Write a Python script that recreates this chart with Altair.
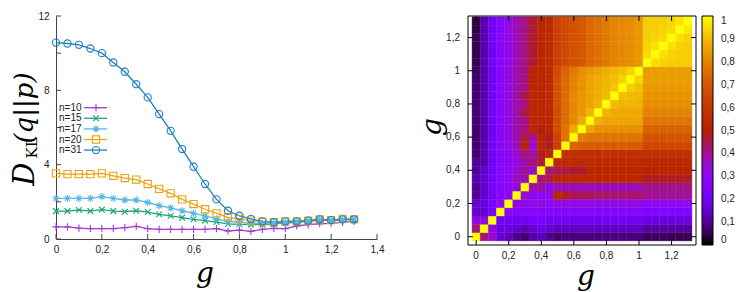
import math
import altair as alt
import pandas as pd

# ---------------- data ----------------
G = [0.0, 0.05, 0.1, 0.15, 0.2, 0.25, 0.3, 0.35, 0.4, 0.45, 0.5, 0.55, 0.6, 0.65,
     0.7, 0.75, 0.8, 0.85, 0.9, 0.95, 1.0, 1.05, 1.1, 1.15, 1.2, 1.25, 1.3]

SERIES = ["n=10", "n=15", "n=17", "n=20", "n=31"]

D_N10 = [0.65, 0.65, 0.59, 0.56, 0.56, 0.56, 0.61, 0.68, 0.56, 0.52, 0.52, 0.52, 0.52, 0.52,
         0.56, 0.43, 0.48, 0.41, 0.52, 0.57, 0.56, 0.70, 0.77, 0.82, 0.84, 0.90, 0.95]
D_N15 = [1.50, 1.50, 1.56, 1.50, 1.58, 1.50, 1.47, 1.52, 1.45, 1.33, 1.25, 1.15, 1.06, 0.99,
         0.91, 0.81, 0.79, 0.77, 0.77, 0.81, 0.86, 0.90, 0.95, 1.02, 0.99, 1.02, 1.06]
D_N17 = [2.19, 2.19, 2.19, 2.19, 2.28, 2.19, 2.10, 2.10, 1.97, 1.79, 1.67, 1.52, 1.38, 1.24,
         1.08, 0.95, 0.90, 0.84, 0.84, 0.86, 0.90, 0.93, 0.99, 1.06, 1.02, 1.06, 1.06]
D_N20 = [3.53, 3.49, 3.49, 3.49, 3.53, 3.40, 3.28, 3.20, 2.96, 2.70, 2.46, 2.13, 1.88, 1.60,
         1.38, 1.16, 1.08, 0.99, 0.93, 0.90, 0.95, 0.95, 0.99, 1.06, 1.02, 1.08, 1.06]
D_N31 = [10.57, 10.52, 10.45, 10.25, 10.00, 9.50, 9.00, 8.33, 7.62, 6.72, 5.82, 4.84, 3.89, 2.96,
         2.13, 1.52, 1.25, 1.08, 0.95, 0.90, 0.95, 0.95, 0.99, 1.06, 1.02, 1.06, 1.06]

X_TICKS_LEFT = [0, 0.2, 0.4, 0.6, 0.8, 1, 1.2, 1.4]
Y_TICKS_LEFT = [0, 2, 4, 6, 8, 10, 12]
TICKS_RIGHT = [0, 0.2, 0.4, 0.6, 0.8, 1, 1.2]
CB_TICKS = [0, 0.1, 0.2, 0.3, 0.4, 0.5, 0.6, 0.7, 0.8, 0.9, 1]

# heat map rows: HM[j][i] -> y = G[j], x = G[i]
HM = [
    [1.00, 0.42, 0.35, 0.15, 0.13, 0.09, 0.07, 0.11, 0.13, 0.09, 0.07, 0.08, 0.08, 0.08, 0.08, 0.08, 0.08, 0.08, 0.08, 0.08, 0.08, 0.06, 0.06, 0.06, 0.05, 0.05, 0.05],
    [0.42, 1.00, 0.33, 0.18, 0.17, 0.15, 0.13, 0.16, 0.18, 0.15, 0.14, 0.14, 0.14, 0.14, 0.14, 0.14, 0.14, 0.14, 0.14, 0.14, 0.14, 0.11, 0.11, 0.11, 0.11, 0.11, 0.11],
    [0.33, 0.33, 1.00, 0.21, 0.20, 0.20, 0.20, 0.22, 0.22, 0.20, 0.20, 0.20, 0.20, 0.20, 0.20, 0.20, 0.20, 0.20, 0.20, 0.20, 0.20, 0.17, 0.17, 0.17, 0.17, 0.17, 0.17],
    [0.15, 0.15, 0.22, 1.00, 0.30, 0.28, 0.27, 0.28, 0.28, 0.27, 0.27, 0.27, 0.27, 0.27, 0.27, 0.27, 0.27, 0.27, 0.27, 0.27, 0.27, 0.25, 0.25, 0.25, 0.25, 0.25, 0.25],
    [0.15, 0.17, 0.22, 0.30, 1.00, 0.33, 0.30, 0.32, 0.32, 0.30, 0.32, 0.32, 0.32, 0.32, 0.32, 0.32, 0.32, 0.32, 0.32, 0.32, 0.32, 0.30, 0.30, 0.30, 0.30, 0.30, 0.30],
    [0.10, 0.15, 0.20, 0.27, 0.30, 1.00, 0.35, 0.31, 0.30, 0.32, 0.53, 0.48, 0.44, 0.44, 0.44, 0.43, 0.43, 0.43, 0.43, 0.43, 0.43, 0.40, 0.40, 0.40, 0.40, 0.40, 0.40],
    [0.10, 0.15, 0.22, 0.27, 0.30, 0.33, 1.00, 0.38, 0.40, 0.33, 0.37, 0.37, 0.37, 0.37, 0.37, 0.37, 0.37, 0.37, 0.37, 0.37, 0.37, 0.41, 0.41, 0.41, 0.41, 0.41, 0.41],
    [0.12, 0.15, 0.20, 0.27, 0.30, 0.37, 0.38, 1.00, 0.42, 0.45, 0.53, 0.53, 0.53, 0.53, 0.53, 0.53, 0.53, 0.53, 0.53, 0.53, 0.53, 0.48, 0.48, 0.48, 0.48, 0.48, 0.48],
    [0.10, 0.15, 0.20, 0.27, 0.30, 0.35, 0.40, 0.35, 1.00, 0.43, 0.45, 0.46, 0.47, 0.47, 0.53, 0.53, 0.53, 0.53, 0.53, 0.53, 0.53, 0.52, 0.52, 0.52, 0.52, 0.52, 0.52],
    [0.10, 0.12, 0.20, 0.27, 0.30, 0.32, 0.38, 0.42, 0.46, 1.00, 0.55, 0.55, 0.55, 0.55, 0.55, 0.55, 0.55, 0.55, 0.55, 0.55, 0.55, 0.54, 0.54, 0.54, 0.54, 0.54, 0.54],
    [0.07, 0.12, 0.20, 0.27, 0.30, 0.35, 0.42, 0.38, 0.48, 0.53, 1.00, 0.57, 0.57, 0.57, 0.57, 0.57, 0.57, 0.57, 0.57, 0.57, 0.57, 0.57, 0.57, 0.57, 0.57, 0.57, 0.57],
    [0.07, 0.12, 0.20, 0.27, 0.32, 0.37, 0.52, 0.35, 0.53, 0.48, 0.63, 1.00, 0.73, 0.72, 0.71, 0.71, 0.71, 0.71, 0.71, 0.71, 0.71, 0.65, 0.65, 0.65, 0.65, 0.65, 0.65],
    [0.07, 0.12, 0.20, 0.27, 0.32, 0.38, 0.46, 0.40, 0.53, 0.48, 0.64, 0.77, 1.00, 0.79, 0.77, 0.77, 0.77, 0.77, 0.77, 0.77, 0.77, 0.69, 0.69, 0.69, 0.69, 0.69, 0.69],
    [0.07, 0.12, 0.20, 0.27, 0.33, 0.38, 0.42, 0.53, 0.49, 0.53, 0.67, 0.77, 0.87, 1.00, 0.86, 0.83, 0.83, 0.83, 0.83, 0.83, 0.83, 0.73, 0.73, 0.73, 0.73, 0.73, 0.73],
    [0.07, 0.12, 0.20, 0.27, 0.33, 0.38, 0.42, 0.53, 0.53, 0.53, 0.67, 0.75, 0.81, 0.87, 1.00, 0.88, 0.86, 0.86, 0.86, 0.86, 0.86, 0.77, 0.77, 0.77, 0.77, 0.77, 0.77],
    [0.07, 0.12, 0.20, 0.27, 0.33, 0.38, 0.46, 0.53, 0.53, 0.53, 0.67, 0.75, 0.81, 0.84, 0.89, 1.00, 0.89, 0.87, 0.87, 0.87, 0.87, 0.80, 0.80, 0.80, 0.80, 0.80, 0.80],
    [0.07, 0.12, 0.20, 0.27, 0.33, 0.38, 0.42, 0.53, 0.53, 0.55, 0.68, 0.75, 0.81, 0.84, 0.86, 0.89, 1.00, 0.90, 0.89, 0.89, 0.89, 0.82, 0.82, 0.82, 0.82, 0.82, 0.82],
    [0.07, 0.12, 0.20, 0.27, 0.33, 0.38, 0.46, 0.53, 0.53, 0.55, 0.68, 0.75, 0.81, 0.84, 0.86, 0.88, 0.90, 1.00, 0.91, 0.90, 0.89, 0.83, 0.83, 0.83, 0.83, 0.83, 0.83],
    [0.07, 0.12, 0.20, 0.27, 0.33, 0.38, 0.42, 0.53, 0.53, 0.55, 0.68, 0.75, 0.80, 0.83, 0.86, 0.88, 0.89, 0.92, 1.00, 0.93, 0.91, 0.84, 0.84, 0.84, 0.84, 0.84, 0.84],
    [0.07, 0.12, 0.20, 0.27, 0.33, 0.38, 0.42, 0.53, 0.53, 0.55, 0.68, 0.74, 0.80, 0.83, 0.86, 0.88, 0.89, 0.91, 0.94, 1.00, 0.94, 0.85, 0.85, 0.85, 0.85, 0.85, 0.85],
    [0.06, 0.12, 0.20, 0.27, 0.33, 0.38, 0.42, 0.53, 0.53, 0.55, 0.66, 0.73, 0.78, 0.82, 0.84, 0.86, 0.88, 0.89, 0.91, 0.94, 1.00, 0.85, 0.85, 0.85, 0.85, 0.85, 0.85],
    [0.05, 0.12, 0.20, 0.27, 0.32, 0.37, 0.42, 0.47, 0.53, 0.55, 0.63, 0.66, 0.68, 0.70, 0.74, 0.76, 0.78, 0.80, 0.81, 0.82, 0.84, 1.00, 0.95, 0.94, 0.93, 0.93, 0.93],
    [0.05, 0.12, 0.20, 0.27, 0.32, 0.37, 0.42, 0.47, 0.53, 0.55, 0.63, 0.66, 0.68, 0.70, 0.74, 0.76, 0.78, 0.80, 0.81, 0.82, 0.84, 0.95, 1.00, 0.96, 0.94, 0.93, 0.93],
    [0.05, 0.12, 0.20, 0.27, 0.32, 0.37, 0.42, 0.47, 0.53, 0.55, 0.63, 0.66, 0.68, 0.70, 0.74, 0.76, 0.78, 0.80, 0.81, 0.82, 0.84, 0.94, 0.96, 1.00, 0.96, 0.94, 0.93],
    [0.05, 0.12, 0.20, 0.27, 0.32, 0.37, 0.42, 0.47, 0.53, 0.55, 0.63, 0.66, 0.68, 0.70, 0.74, 0.76, 0.78, 0.80, 0.81, 0.82, 0.84, 0.93, 0.94, 0.95, 1.00, 0.96, 0.94],
    [0.04, 0.12, 0.20, 0.27, 0.32, 0.37, 0.42, 0.47, 0.53, 0.55, 0.63, 0.66, 0.68, 0.70, 0.74, 0.76, 0.78, 0.80, 0.81, 0.82, 0.84, 0.93, 0.93, 0.94, 0.95, 1.00, 0.97],
    [0.04, 0.12, 0.20, 0.27, 0.32, 0.37, 0.42, 0.47, 0.53, 0.55, 0.63, 0.66, 0.68, 0.70, 0.74, 0.76, 0.78, 0.80, 0.81, 0.82, 0.84, 0.93, 0.93, 0.93, 0.94, 0.96, 1.00],
]

# ---------------- style ----------------
COLORS = ["#a23cd9", "#1aa57c", "#5ab6ea", "#e8a310", "#1f80c0"]
SHAPES = ["M-1,0L1,0M0,-1L0,1",
          "M-0.8,-0.8L0.8,0.8M-0.8,0.8L0.8,-0.8",
          "M-1,0L1,0M0,-1L0,1M-0.7,-0.7L0.7,0.7M-0.7,0.7L0.7,-0.7",
          "square",
          "circle"]
SANS = "Liberation Sans"
SERIF = "DejaVu Serif"
LBL = "#222222"
COMMA = "replace(format(datum.value, '~g'), '.', ',')"
COMMA_T = "replace(format(datum.t, '~g'), '.', ',')"


def gp_color(t):
    r = math.sqrt(t)
    g = t ** 3
    b = max(0.0, math.sin(2 * math.pi * t))
    return "#%02x%02x%02x" % (round(r * 255), round(g * 255), round(b * 255))


PAL_DOMAIN = [k / 40 for k in range(41)]
PAL_RANGE = [gp_color(t) for t in PAL_DOMAIN]

LW, LH = 321, 223
RW, RH = 228, 229
CB_OFF, CB_W = 6, 11

# ---------------- left panel ----------------
rows = []
for name, vals in zip(SERIES, [D_N10, D_N15, D_N17, D_N20, D_N31]):
    for g, v in zip(G, vals):
        rows.append({"g": g, "d": v, "series": name})
left_df = pd.DataFrame(rows)

color_l = alt.Color("series:N", scale=alt.Scale(domain=SERIES, range=COLORS), legend=None)
shape_l = alt.Shape("series:N", scale=alt.Scale(domain=SERIES, range=SHAPES), legend=None)
xl = alt.X("g:Q", scale=alt.Scale(domain=[0, 1.4], nice=False, zero=False),
           axis=alt.Axis(values=X_TICKS_LEFT, ticks=False, grid=False, title=None,
                         labelExpr=COMMA, labelFont=SANS, labelFontSize=10, labelColor=LBL,
                         labelPadding=5, domainColor="#444444", labelFlush=False,
                         labelOverlap=False))
yl = alt.Y("d:Q", scale=alt.Scale(domain=[0, 12], nice=False),
           axis=alt.Axis(values=Y_TICKS_LEFT, ticks=False, grid=False, title=None,
                         labelFont=SANS, labelFontSize=10, labelColor=LBL,
                         labelPadding=7, domainColor="#444444", labelOverlap=False))

lines = alt.Chart(left_df).mark_line(strokeWidth=1.3).encode(
    x=xl, y=yl, color=color_l, detail="series:N")
pts = alt.Chart(left_df).mark_point(filled=False, size=52, strokeWidth=1.1, opacity=1).encode(
    x="g:Q", y="d:Q", color=color_l, shape=shape_l)

xt_df = pd.DataFrame({"t": X_TICKS_LEFT})
yt_df = pd.DataFrame({"t": Y_TICKS_LEFT})
xticks_l = alt.Chart(xt_df).mark_rule(color="#444444").encode(
    x="t:Q", y=alt.value(LH), y2=alt.value(LH - 5))
yticks_l = alt.Chart(yt_df).mark_rule(color="#444444").encode(
    y="t:Q", x=alt.value(0), x2=alt.value(5))

leg_df = pd.DataFrame({"series": SERIES, "k": [0, 1, 2, 3, 4]})
leg_base = alt.Chart(leg_df).transform_calculate(py="91.7 + 10.6 * datum.k")
leg_lines = leg_base.mark_rule(strokeWidth=1.3).encode(
    x=alt.value(28), x2=alt.value(51), y=alt.Y("py:Q", scale=None), color=color_l)
leg_pts = leg_base.mark_point(filled=False, size=52, strokeWidth=1.1, opacity=1).encode(
    x=alt.value(40), y=alt.Y("py:Q", scale=None), color=color_l, shape=shape_l)
leg_txt = leg_base.mark_text(align="left", baseline="middle", font=SANS, fontSize=10,
                             color=LBL).encode(
    x=alt.value(3), y=alt.Y("py:Q", scale=None), text="series:N")

one = pd.DataFrame({"a": [0]})
t_D = alt.Chart(one).mark_text(text="D", font=SERIF, fontSize=29, fontStyle="italic",
                               angle=270, align="center", baseline="middle", color="black").encode(
    x=alt.value(-31), y=alt.value(158))
t_KL = alt.Chart(one).mark_text(text="KL", font=SERIF, fontSize=15, angle=270,
                                align="center", baseline="middle", color="black").encode(
    x=alt.value(-24), y=alt.value(132))
t_qp = alt.Chart(one).mark_text(text="(q||p)", font=SERIF, fontSize=26, fontStyle="italic",
                                angle=270, align="center", baseline="middle", color="black").encode(
    x=alt.value(-31), y=alt.value(92))
t_gl = alt.Chart(one).mark_text(text="g", font=SERIF, fontSize=28, fontStyle="italic",
                                align="center", baseline="middle", color="black").encode(
    x=alt.value(149), y=alt.value(258))
# white spacer above the left plot, keeps it a little lower than the right one
spacer = alt.Chart(one).mark_rule(color="white").encode(
    x=alt.value(0), x2=alt.value(1), y=alt.value(-7))

left = alt.layer(spacer, lines, pts, xticks_l, yticks_l, leg_lines, leg_pts, leg_txt,
                 t_D, t_KL, t_qp, t_gl).properties(width=LW, height=LH)

# ---------------- right panel ----------------
hrows = []
for j, row in enumerate(HM):
    for i, v in enumerate(row):
        hrows.append({"gx": G[i], "gy": G[j], "v": v})
hm_df = pd.DataFrame(hrows)
hm_df["x0"] = hm_df["gx"] - 0.025
hm_df["x1"] = hm_df["gx"] + 0.025
hm_df["y0"] = hm_df["gy"] - 0.025
hm_df["y1"] = hm_df["gy"] + 0.025

cscale = alt.Scale(domain=PAL_DOMAIN, range=PAL_RANGE, interpolate="rgb")
xr = alt.X("x0:Q", scale=alt.Scale(domain=[-0.05, 1.35], nice=False, zero=False), axis=None)
yr = alt.Y("y0:Q", scale=alt.Scale(domain=[-0.05, 1.33], nice=False, zero=False), axis=None)

heat = alt.Chart(hm_df).mark_rect(strokeWidth=0.4, clip=True).encode(
    x=xr, x2="x1:Q", y=yr, y2="y1:Q",
    color=alt.Color("v:Q", scale=cscale,
                    legend=alt.Legend(title=None, orient="right", offset=CB_OFF,
                                      gradientLength=RH, gradientThickness=CB_W,
                                      gradientStrokeColor="black", gradientStrokeWidth=1,
                                      values=CB_TICKS, labelExpr=COMMA, labelFont=SANS,
                                      labelFontSize=10, labelColor=LBL, labelOffset=8,
                                      labelOverlap=False)),
    stroke=alt.Stroke("v:Q", scale=cscale, legend=None))

rt_df = pd.DataFrame({"t": TICKS_RIGHT})
tx = alt.X("t:Q", axis=None)
ty = alt.Y("t:Q", axis=None)
r_xb = alt.Chart(rt_df).mark_rule(color="black").encode(x=tx, y=alt.value(RH), y2=alt.value(RH - 5))
r_xt = alt.Chart(rt_df).mark_rule(color="black").encode(x=tx, y=alt.value(0), y2=alt.value(5))
r_yl = alt.Chart(rt_df).mark_rule(color="black").encode(y=ty, x=alt.value(0), x2=alt.value(5))
r_yr = alt.Chart(rt_df).mark_rule(color="black").encode(y=ty, x=alt.value(RW), x2=alt.value(RW - 5))
r_xlab = alt.Chart(rt_df).transform_calculate(lbl=COMMA_T).mark_text(
    align="center", baseline="top", font=SANS, fontSize=10, color=LBL).encode(
    x=tx, y=alt.value(RH + 6), text="lbl:N")
r_ylab = alt.Chart(rt_df).transform_calculate(lbl=COMMA_T).mark_text(
    align="right", baseline="middle", font=SANS, fontSize=10, color=LBL).encode(
    y=ty, x=alt.value(-8), text="lbl:N")
frame = alt.Chart(one).mark_rect(fill=None, stroke="black", strokeWidth=1).encode(
    x=alt.value(0), x2=alt.value(RW), y=alt.value(0), y2=alt.value(RH))

# small inner tick dashes on the colour bar (one per colour-bar label)
cb_df = pd.DataFrame({"c": CB_TICKS[1:-1]})
cb_base = alt.Chart(cb_df).transform_calculate(py=f"{RH} * (1 - datum.c)")
cb_tl = cb_base.mark_rule(color="black", strokeWidth=0.8).encode(
    y=alt.Y("py:Q", scale=None), x=alt.value(RW + CB_OFF), x2=alt.value(RW + CB_OFF + 3))
cb_tr = cb_base.mark_rule(color="black", strokeWidth=0.8).encode(
    y=alt.Y("py:Q", scale=None), x=alt.value(RW + CB_OFF + CB_W - 3), x2=alt.value(RW + CB_OFF + CB_W))

t_gx = alt.Chart(one).mark_text(text="g", font=SERIF, fontSize=28, fontStyle="italic",
                                align="center", baseline="middle", color="black").encode(
    x=alt.value(118), y=alt.value(261))
t_gy = alt.Chart(one).mark_text(text="g", font=SERIF, fontSize=28, fontStyle="italic",
                                angle=270, align="center", baseline="middle", color="black").encode(
    x=alt.value(-35), y=alt.value(111))

right = alt.layer(heat, r_xb, r_xt, r_yl, r_yr, r_xlab, r_ylab, frame, cb_tl, cb_tr,
                  t_gx, t_gy).properties(width=RW, height=RH)

chart = alt.hconcat(left, right, spacing=35).properties(
    padding={"left": 3, "top": 0, "right": 0, "bottom": 0}, background="white"
).configure_view(stroke=None)

chart.save("out.html", embed_options={"renderer": "svg", "actions": False})
